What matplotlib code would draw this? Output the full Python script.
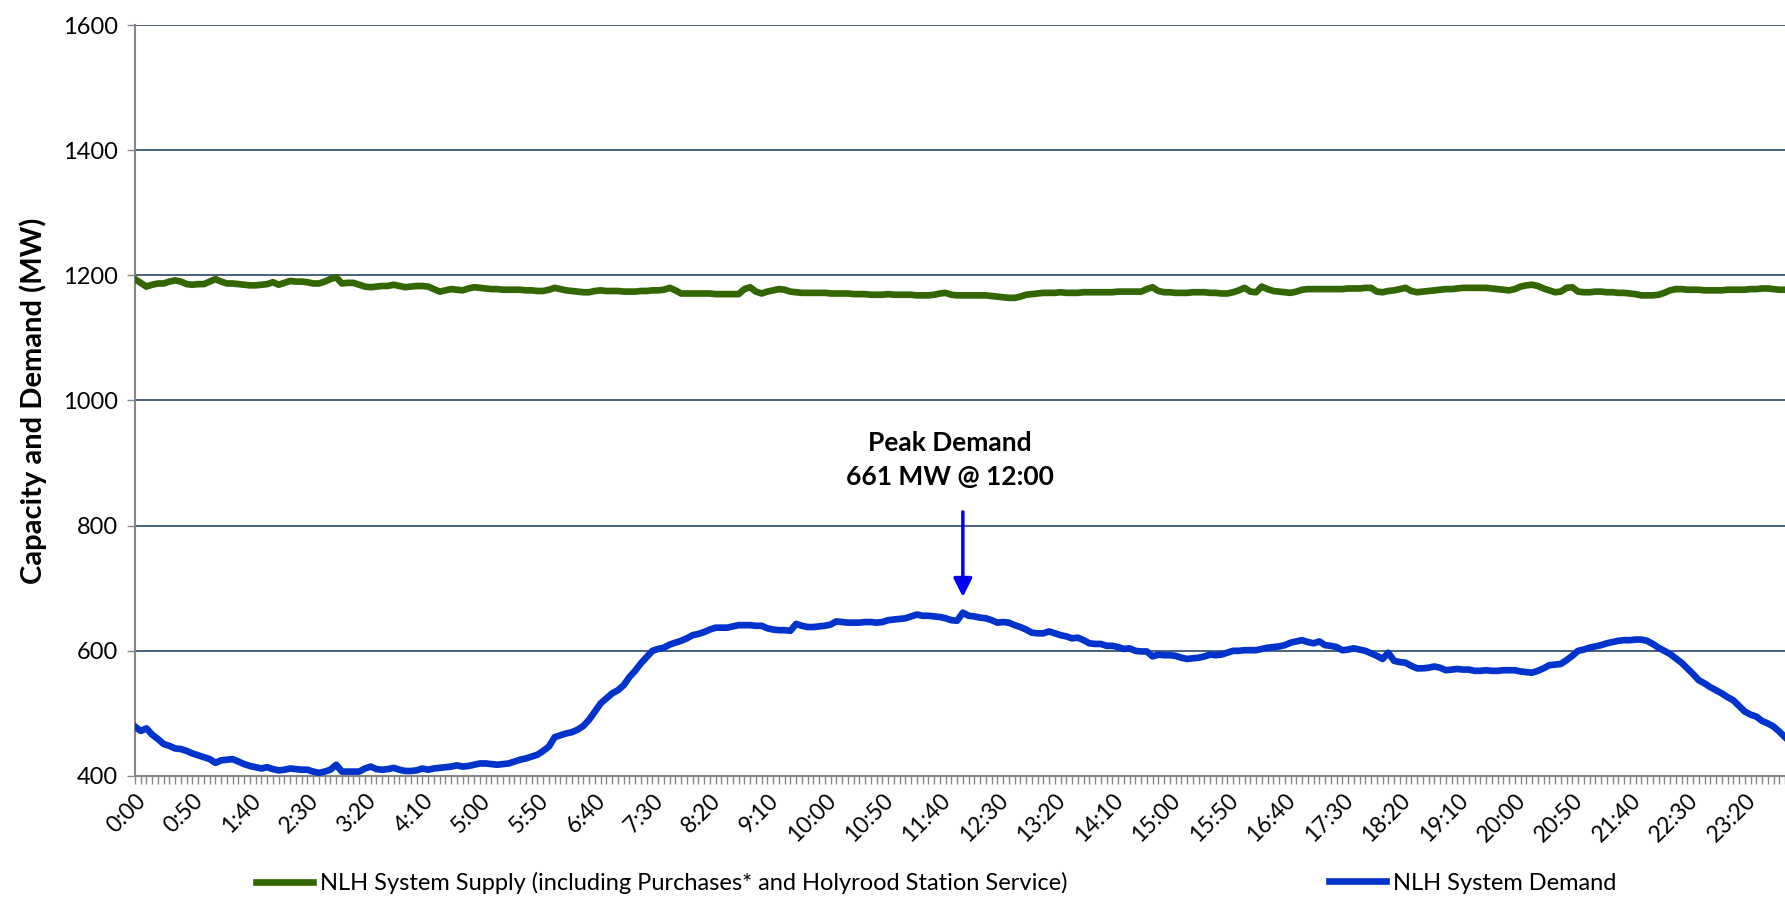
import matplotlib
matplotlib.use("Agg")
import matplotlib.pyplot as plt
from matplotlib.lines import Line2D

plt.rcParams['font.family'] = ['Lato', 'DejaVu Sans']

# categorias de 5 minutos (0:00 ... 23:55)
horas = ["%d:%02d" % (m // 60, m % 60) for m in range(0, 1440, 5)]

# NLH System Supply (MW), uma linha por hora
oferta = [
    1194, 1188, 1182, 1185, 1187, 1187, 1190, 1192, 1190, 1186, 1185, 1186,
    1186, 1190, 1194, 1190, 1187, 1187, 1186, 1185, 1184, 1184, 1185, 1186,
    1189, 1185, 1188, 1191, 1190, 1190, 1189, 1187, 1187, 1190, 1194, 1197,
    1187, 1188, 1188, 1185, 1182, 1181, 1182, 1183, 1183, 1185, 1183, 1181,
    1182, 1183, 1183, 1182, 1178, 1174, 1176, 1178, 1177, 1176, 1179, 1181,
    1180, 1179, 1178, 1178, 1177, 1177, 1177, 1177, 1176, 1176, 1175, 1175,
    1177, 1180, 1178, 1176, 1175, 1174, 1173, 1173, 1175, 1176, 1175, 1175,
    1175, 1174, 1174, 1174, 1175, 1175, 1176, 1176, 1177, 1180, 1176, 1171,
    1171, 1171, 1171, 1171, 1171, 1170, 1170, 1170, 1170, 1170, 1178, 1181,
    1174, 1171, 1174, 1176, 1178, 1177, 1174, 1173, 1172, 1172, 1172, 1172,
    1172, 1171, 1171, 1171, 1171, 1170, 1170, 1170, 1169, 1169, 1169, 1170,
    1169, 1169, 1169, 1169, 1168, 1168, 1168, 1169, 1171, 1172, 1169, 1168,
    1168, 1168, 1168, 1168, 1168, 1167, 1166, 1165, 1164, 1164, 1166, 1169,
    1170, 1171, 1172, 1172, 1172, 1173, 1172, 1172, 1172, 1173, 1173, 1173,
    1173, 1173, 1173, 1174, 1174, 1174, 1174, 1174, 1178, 1181, 1175, 1173,
    1173, 1172, 1172, 1172, 1173, 1173, 1173, 1172, 1172, 1171, 1171, 1173,
    1176, 1180, 1174, 1173, 1182, 1178, 1175, 1174, 1173, 1172, 1174, 1177,
    1178, 1178, 1178, 1178, 1178, 1178, 1178, 1179, 1179, 1179, 1180, 1180,
    1174, 1173, 1175, 1176, 1178, 1180, 1175, 1173, 1174, 1175, 1176, 1177,
    1178, 1178, 1179, 1180, 1180, 1180, 1180, 1180, 1179, 1178, 1177, 1176,
    1178, 1182, 1184, 1185, 1183, 1179, 1176, 1173, 1174, 1180, 1181, 1174,
    1173, 1173, 1174, 1174, 1173, 1173, 1172, 1172, 1171, 1170, 1168, 1168,
    1168, 1169, 1172, 1176, 1178, 1178, 1177, 1177, 1177, 1176, 1176, 1176,
    1176, 1177, 1177, 1177, 1177, 1178, 1178, 1179, 1179, 1178, 1177, 1177,
]

# NLH System Demand (MW)
demanda = [
    479, 472, 476, 466, 459, 451, 448, 444, 443, 440, 436, 433,
    430, 427, 421, 425, 426, 427, 423, 419, 416, 414, 412, 414,
    411, 409, 410, 412, 411, 410, 410, 407, 405, 407, 410, 418,
    407, 407, 407, 407, 412, 415, 411, 410, 411, 413, 410, 408,
    408, 409, 412, 410, 412, 413, 414, 415, 417, 415, 416, 418,
    420, 420, 419, 418, 419, 420, 423, 426, 428, 431, 434, 440,
    447, 462, 465, 468, 470, 474, 480, 490, 503, 516, 524, 532,
    537, 545, 558, 568, 580, 590, 600, 603, 605, 610, 613, 616,
    620, 625, 627, 630, 634, 637, 637, 637, 639, 641, 641, 641,
    640, 640, 636, 634, 633, 633, 632, 643, 640, 638, 638, 639,
    640, 642, 647, 646, 645, 645, 645, 646, 646, 645, 646, 649,
    650, 651, 652, 655, 658, 656, 656, 655, 654, 652, 649, 648,
    661, 656, 655, 653, 652, 649, 645, 646, 645, 641, 638, 634,
    629, 628, 628, 631, 628, 625, 623, 620, 621, 617, 612, 611,
    611, 608, 608, 606, 603, 604, 600, 599, 599, 591, 594, 593,
    593, 592, 589, 587, 588, 589, 591, 594, 593, 594, 597, 600,
    600, 601, 601, 601, 603, 605, 606, 607, 609, 613, 615, 617,
    614, 612, 615, 609, 608, 606, 601, 602, 604, 602, 600, 596,
    592, 587, 597, 584, 582, 581, 576, 572, 572, 573, 575, 573,
    569, 570, 571, 570, 570, 568, 568, 569, 568, 568, 569, 569,
    569, 567, 566, 565, 568, 572, 577, 578, 579, 585, 592, 600,
    602, 605, 607, 609, 612, 614, 616, 617, 617, 618, 618, 616,
    611, 605, 600, 595, 588, 581, 572, 563, 553, 548, 542, 537,
    532, 526, 521, 512, 503, 498, 495, 488, 484, 479, 471, 462,
]

legenda = ["NLH System Supply (including Purchases* and Holyrood Station Service)",
           "NLH System Demand"]
pico_idx = 144
pico_txt = "Peak Demand\n661 MW @ 12:00"

verde = "#336600"
azul = "#0033CC"
cinza = "#868686"

fig = plt.figure(figsize=(17.85, 9), dpi=100)
ax = fig.add_axes([0.0756, 0.1378, 0.9244, 0.8344])

x = list(range(len(horas)))
ax.plot(x, oferta, color=verde, lw=4.8, solid_joinstyle='round', zorder=3)
ax.plot(x, demanda, color=azul, lw=4.8, solid_joinstyle='round', zorder=3)

ax.set_xlim(0, len(horas) - 1)
ax.set_ylim(400, 1600)
ax.set_yticks(range(400, 1601, 200))
ax.yaxis.grid(True, color="#17375E", lw=1.1)
ax.set_axisbelow(True)

# rotulos a cada 50 minutos, marcas em cada categoria
ax.set_xticks(x[::10])
ax.set_xticklabels(horas[::10], rotation=45, ha='right', rotation_mode='anchor')
ax.set_xticks(x, minor=True)
ax.tick_params(axis='x', which='both', direction='out', length=6, width=1,
               color=cinza, labelsize=16.5, pad=4)
ax.tick_params(axis='y', direction='out', length=6, width=1, color=cinza,
               labelsize=17, pad=6)

for s in ['top', 'right']:
    ax.spines[s].set_visible(False)
for s in ['left', 'bottom']:
    ax.spines[s].set_color(cinza)
    ax.spines[s].set_linewidth(1.5)

ax.set_ylabel("Capacity and Demand (MW)", fontsize=21, fontweight='bold', labelpad=12)

# anotacao do pico
ax.annotate("", xy=(pico_idx, 686), xytext=(pico_idx, 822),
            arrowprops=dict(arrowstyle='-|>', color='#0000FF', lw=2.5,
                            mutation_scale=28, shrinkA=0, shrinkB=0))
ax.text(pico_idx - 2.3, 905, pico_txt, ha='center', va='center',
        fontsize=19, fontweight='bold', linespacing=1.5)

# legenda em duas partes
h1 = Line2D([], [], color=verde, lw=4.8)
h2 = Line2D([], [], color=azul, lw=4.8)
kw = dict(frameon=False, fontsize=17, handlelength=2.4, handletextpad=0.3,
          borderpad=0, borderaxespad=0, loc='center left')
fig.legend([h1], [legenda[0]], bbox_to_anchor=(256 / 1785, 1 - 883 / 900), **kw)
fig.legend([h2], [legenda[1]], bbox_to_anchor=(1329 / 1785, 1 - 883 / 900), **kw)

fig.savefig("out.png", dpi=100)
